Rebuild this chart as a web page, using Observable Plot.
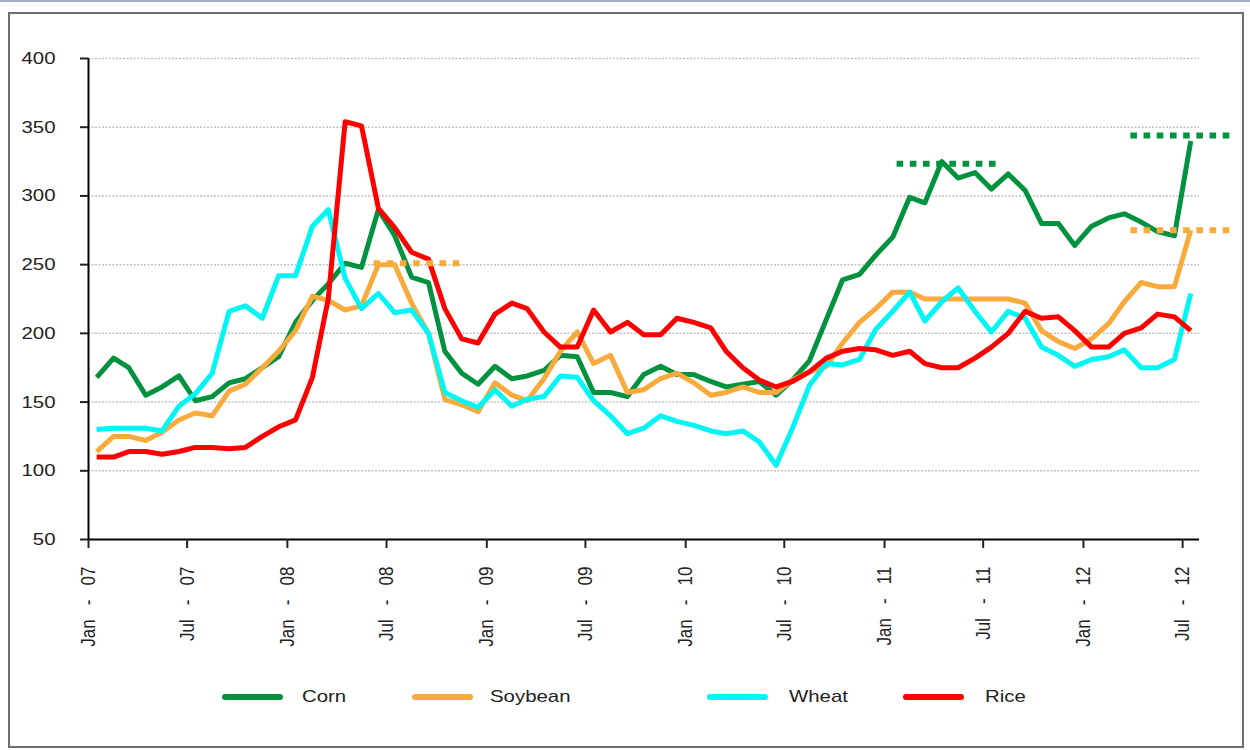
<!DOCTYPE html>
<html>
<head>
<meta charset="utf-8">
<script src="https://cdn.jsdelivr.net/npm/d3@7"></script>
<script src="https://cdn.jsdelivr.net/npm/@observablehq/plot@0.6"></script>
<style>
  html, body { margin: 0; padding: 0; background: #fff; }
  body { font-family: "Liberation Sans", Arial, sans-serif; }
  #wrap { position: relative; width: 1250px; height: 750px; overflow: hidden; background: #fff; }
  #topline { position: absolute; left: 0; top: 0; width: 1250px; height: 2px; background: #9fb0cf; }
  #frame { position: absolute; left: 8px; top: 12px; width: 1232px; height: 732px; border: 2px solid #6f6f6f; }
  #chart { position: absolute; left: 0; top: 0; }
  #legend { position: absolute; left: 0; top: 684px; width: 1250px; height: 26px; }
  .sw { position: absolute; top: 10px; width: 61px; height: 6px; border-radius: 3px; }
  .lt { position: absolute; top: 2px; font-size: 17px; color: #222; line-height: 22px;
        transform: scaleX(1.2); transform-origin: 0 50%; white-space: nowrap; }
</style>
</head>
<body>
<div id="wrap">
  <div id="topline"></div>
  <div id="frame"></div>
  <div id="chart"></div>
  <div id="legend"></div>
</div>
<script>
// ---------------- data ----------------
const seriesNames = ["Corn", "Soybean", "Wheat", "Rice"];
const seriesColors = ["#00923f", "#f9aa3c", "#00f5f5", "#ff0000"];

// monthly index values, Jan-07 .. Jul-12 (67 months)
const corn = [168,182,175,155,161,169,151,154,164,167,175,183,208,224,236,251,248,290,271,241,
              237,187,171,163,176,167,169,173,184,183,157,157,154,170,176,170,170,165,161,163,
              165,155,166,180,210,239,243,257,270,299,295,325,313,317,305,316,304,280,280,264,
              278,284,287,281,274,271,340];
const soybean = [114,125,125,122,128,137,142,140,158,163,175,187,202,227,224,217,220,250,250,222,
                 200,152,148,143,164,155,151,167,187,201,178,184,157,159,167,171,164,155,157,161,
                 157,157,166,172,176,193,208,218,230,230,225,225,225,225,225,225,222,202,194,189,
                 196,207,223,237,234,234,275];
const wheat = [130,131,131,131,129,147,156,171,216,220,211,242,242,278,290,240,218,229,215,217,
               200,157,151,146,159,147,152,154,169,168,151,140,127,131,140,136,133,129,127,129,
               121,104,131,162,178,177,181,203,216,230,209,223,233,216,201,216,211,190,184,176,
               181,183,188,175,175,181,229];
const rice = [110,110,114,114,112,114,117,117,116,117,125,132,137,168,225,354,351,291,277,259,
              254,218,196,193,214,222,218,201,190,190,217,201,208,199,199,211,208,204,187,175,
              166,161,165,172,182,187,189,188,184,187,178,175,175,182,190,200,216,211,212,202,
              190,190,200,204,214,212,202];

const firstMonth = "2007-01-01";
const endMonth = "2012-08-01";
const yTicks = [50, 100, 150, 200, 250, 300, 350, 400];
const xTickLabels = ["Jan - 07","Jul - 07","Jan - 08","Jul - 08","Jan - 09","Jul - 09",
                     "Jan - 10","Jul - 10","Jan - 11","Jul - 11","Jan - 12","Jul - 12"];

// dotted reference levels
const refSeries = ["Soybean", "Corn", "Corn", "Soybean"];
const refValues = [251, 323.5, 344, 275];
const refFrom = ["2008-06-08", "2011-01-24", "2012-03-28", "2012-03-28"];
const refTo   = ["2008-11-16", "2011-07-25", "2012-10-02", "2012-10-02"];

// ---------------- build tables ----------------
const start = new Date(firstMonth), end = new Date(endMonth);
const months = d3.utcMonths(start, end);
const values = [corn, soybean, wheat, rice];
const rows = [];
seriesNames.forEach((s, k) => {
  values[k].forEach((v, i) => rows.push({series: s, date: d3.utcDay.offset(months[i], 15), value: v}));
});
const refs = refValues.map((v, i) => ({series: refSeries[i], value: v, from: new Date(refFrom[i]), to: new Date(refTo[i])}));
const xTicks = d3.utcMonth.every(6).range(start, end);
const labelMap = new Map(xTicks.map((d, i) => [+d, xTickLabels[i].replace(/ /g, "\u00a0\u00a0\u00a0")]));
const colorOf = new Map(seriesNames.map((s, i) => [s, seriesColors[i]]));

const chart = Plot.plot({
  width: 1250,
  height: 660,
  marginLeft: 88,
  marginRight: 51,
  marginTop: 58,
  marginBottom: 121,
  style: {fontFamily: "'Liberation Sans', Arial, sans-serif", color: "#000", background: "transparent", overflow: "visible"},
  x: {type: "utc", domain: [start, end]},
  y: {domain: [50, 400]},
  color: {domain: seriesNames, range: seriesColors},
  marks: [
    Plot.ruleY(yTicks.filter(d => d > 50), {stroke: "#c2c2c2", strokeWidth: 1.5, strokeDasharray: "2,1.5"}),
    ...seriesNames.map(s => Plot.line(rows.filter(r => r.series === s), {
      x: "date", y: "value", stroke: colorOf.get(s), strokeWidth: 5, strokeLinejoin: "round", strokeLinecap: "butt"
    })),
    Plot.ruleY(refs, {y: "value", x1: "from", x2: "to", stroke: d => colorOf.get(d.series), strokeWidth: 6, strokeDasharray: "6.6,6.6"}),
    Plot.ruleX([start], {stroke: "#000", strokeWidth: 2}),
    Plot.ruleY([50], {stroke: "#000", strokeWidth: 2}),
    Plot.axisY({ticks: yTicks, tickSize: 8, tickPadding: 25, fontSize: 17, label: null, strokeWidth: 2, color: "#222"}),
    Plot.axisX({ticks: xTicks, tickFormat: d => labelMap.get(+d), tickSize: 9, tickPadding: 18, tickRotate: -90,
                fontSize: 17, label: null, strokeWidth: 2, color: "#222"})
  ]
});

// widen tick labels horizontally to match the reference's stretched glyphs
d3.select(chart).selectAll("text").each(function() {
  const tr = this.getAttribute("transform");
  if (!tr) return;
  const m = tr.match(/^(translate\([^)]*\))(.*)$/);
  if (m) this.setAttribute("transform", `${m[1]} scale(1.2,1)${m[2]}`);
});

document.getElementById("chart").appendChild(chart);

// ---------------- legend ----------------
const legendSwatchX = [222, 412, 707, 903];
const legendTextX = [302, 490, 789, 985];
const legend = document.getElementById("legend");
seriesNames.forEach((s, i) => {
  const sw = document.createElement("div");
  sw.className = "sw";
  sw.style.left = legendSwatchX[i] + "px";
  sw.style.background = seriesColors[i];
  legend.appendChild(sw);
  const t = document.createElement("div");
  t.className = "lt";
  t.style.left = legendTextX[i] + "px";
  t.textContent = s;
  legend.appendChild(t);
});
</script>
</body>
</html>
